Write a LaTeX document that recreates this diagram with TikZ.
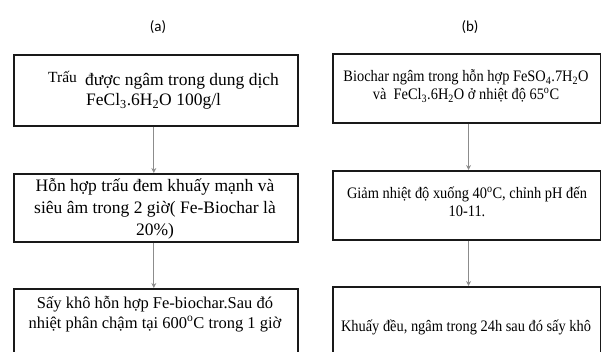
\documentclass[tikz,border=0pt]{standalone}
\usepackage{fontspec}
\setmainfont{Liberation Serif}
\newfontfamily\condfont[FakeStretch=0.9]{Liberation Serif}
\newfontfamily\labfont{Carlito}
\usetikzlibrary{arrows.meta}
\begin{document}
\begin{tikzpicture}[x=1pt,y=-1pt,
  box/.style={draw=black!90, line width=1.6pt, inner sep=0pt, anchor=north west},
  conn/.style={draw=black!45, line width=0.8pt, -{Stealth[length=5pt,width=5pt]}},
  ltext/.style={inner sep=0pt, align=center, anchor=base, font=\fontsize{17.5}{22}\selectfont},
  rtext/.style={inner sep=0pt, align=center, anchor=base, font=\condfont\fontsize{16}{18.5}\selectfont},
  lab/.style={inner sep=0pt, font=\labfont\fontsize{15}{18}\selectfont}]
\useasboundingbox (0,0) rectangle (601,352);
\clip (0,0) rectangle (601,352);
\fill[white] (0,0) rectangle (601,352);

\node[lab] (la) at (158,27) {(a)};
\node[lab] (lb) at (470,27) {(b)};

% left column
\node[box, minimum width=284pt, minimum height=71pt] (l1) at (13,54) {};
\node[box, minimum width=284pt, minimum height=68pt] (l2) at (13,173) {};
\node[box, minimum width=284pt, minimum height=90pt] (l3) at (13,288) {};

\node[inner sep=0pt, anchor=base west, font=\fontsize{15.5}{17}\selectfont] (t1a) at (48,83) {Trấu};
\node[inner sep=0pt, anchor=base west, font=\fontsize{17.5}{22}\selectfont] (t1b) at (85,86) {được ngâm trong dung dịch};
\node[inner sep=0pt, anchor=base west, font=\fontsize{17.5}{22}\selectfont] (t1c) at (86,106) {FeCl\textsubscript{3}.6H\textsubscript{2}O 100g/l};
\node[ltext] (t2) at (155,236) {Hỗn hợp trấu đem khuấy mạnh và\\siêu âm trong 2 giờ( Fe-Biochar là\\20\%)};
\node[ltext, font=\fontsize{16.5}{19.5}\selectfont] (t3) at (155,328) {Sấy khô hỗn hợp Fe-biochar.Sau đó\\nhiệt phân chậm tại 600\textsuperscript{o}C trong 1 giờ};

% right column
\node[box, minimum width=267.5pt, minimum height=69pt] (r1) at (332,53) {};
\node[box, minimum width=267.5pt, minimum height=69pt] (r2) at (332,170) {};
\node[box, minimum width=267.5pt, minimum height=90pt] (r3) at (332,286) {};

\node[rtext] (s1) at (466,100) {Biochar ngâm trong hỗn hợp FeSO\textsubscript{4}.7H\textsubscript{2}O\\và\ \ FeCl\textsubscript{3}.6H\textsubscript{2}O ở nhiệt độ 65\textsuperscript{o}C};
\node[rtext] (s2) at (467,217) {Giảm nhiệt độ xuống 40\textsuperscript{o}C, chỉnh pH đến\\10-11.};
\node[rtext] (s3) at (466,331) {Khuấy đều, ngâm trong 24h sau đó sấy khô};

% connectors
\draw[conn] ([xshift=-2pt]l1.south) -- ([xshift=-2pt]l2.north);
\draw[conn] ([xshift=-2pt]l2.south) -- ([xshift=-2pt]l3.north);
\draw[conn] ([xshift=2pt]r1.south) -- ([xshift=2pt]r2.north);
\draw[conn] ([xshift=2pt]r2.south) -- ([xshift=2pt]r3.north);
\end{tikzpicture}
\end{document}
